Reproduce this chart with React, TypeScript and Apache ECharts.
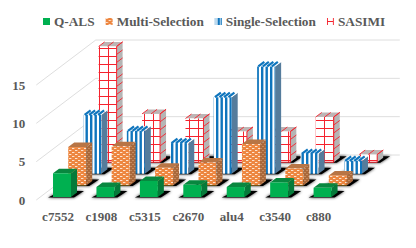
import React, { useEffect, useRef } from "react";
import * as echarts from "echarts";

const categories = ["c7552", "c1908", "c5315", "c2670", "alu4", "c3540", "c880"];
const qAls = [3.1, 1.3, 2.1, 1.6, 1.3, 1.9, 1.2];
const multiSelection = [5.0, 5.1, 2.3, 3.0, 5.4, 2.2, 1.3];
const singleSelection = [7.7, 5.6, 4.0, 10, 14, 2.6, 1.7];
const sasimi = [15.1, 6.3, 5.7, 4.0, 4.0, 5.9, 1.0];
const wallTicks = [0, 5, 10, 15];

const ROW_DX = 15.2, ROW_DY = 11.6, WALL_DX = 59.5, WALL_DY = 45;
const BAR_W = 18, TOP_DX = 6, TOP_DY = 4.5;
const TEXT = "#595959";
const FONT = "'Liberation Serif', serif";

function makeCanvas(w: number, h: number, draw: (c: CanvasRenderingContext2D) => void) {
  const cv = document.createElement("canvas");
  cv.width = w; cv.height = h;
  draw(cv.getContext("2d")!);
  return cv;
}
const orangeCanvas = () => makeCanvas(6, 4, (c) => {
  c.fillStyle = "#ed8640"; c.fillRect(0, 0, 6, 4);
  c.fillStyle = "#fde3cf"; c.fillRect(0, 0, 2, 1); c.fillRect(3, 2, 2, 1);
  c.fillStyle = "#f4a970"; c.fillRect(2, 0, 1, 1); c.fillRect(5, 2, 1, 1);
});
const orangeSideCanvas = () => makeCanvas(4, 4, (c) => {
  c.fillStyle = "#a9683a"; c.fillRect(0, 0, 4, 4);
  c.fillStyle = "#c58a5e"; c.fillRect(0, 0, 2, 1); c.fillRect(2, 2, 2, 1);
});
const blueCanvas = () => makeCanvas(9, 2, (c) => {
  c.fillStyle = "#ffffff"; c.fillRect(0, 0, 9, 2);
  c.fillStyle = "#0f75bd"; c.fillRect(0, 0, 2.4, 2); c.fillRect(4.5, 0, 2.4, 2);
});
const redCanvas = () => makeCanvas(9, 8, (c) => {
  c.fillStyle = "#ffffff"; c.fillRect(0, 0, 9, 8);
  c.fillStyle = "#f5222d"; c.fillRect(0, 0, 9, 1); c.fillRect(0, 0, 1, 8);
});
const sasimiIcon = () => makeCanvas(8, 8, (c) => {
  c.fillStyle = "#ffffff"; c.fillRect(0, 0, 8, 8);
  c.fillStyle = "#f5222d"; c.fillRect(0, 0, 1, 8); c.fillRect(6, 0, 1, 8); c.fillRect(0, 3, 7, 1);
});
const blueIcon = () => makeCanvas(8, 8, (c) => {
  c.fillStyle = "#bcd9ee"; c.fillRect(0, 0, 8, 8);
  c.fillStyle = "#0f75bd"; c.fillRect(3, 0, 2, 8); c.fillRect(6, 0, 2, 8);
});

function polygon(points: number[][], fill: any, z = 0) {
  return { type: "polygon", shape: { points }, style: { fill }, z2: z, silent: true };
}
function line(x1: number, y1: number, x2: number, y2: number, stroke: string, w = 0.8) {
  return { type: "line", shape: { x1, y1, x2, y2 }, style: { stroke, lineWidth: w }, silent: true };
}

type Kind = "green" | "orange" | "blue" | "red";

export default function App() {
  const ref = useRef<HTMLDivElement>(null);
  useEffect(() => {
    const chart = echarts.init(ref.current!, undefined, { renderer: "svg" });
    const orange = orangeCanvas(), orangeSide = orangeSideCanvas(), blue = blueCanvas(), red = redCanvas();

    const bar = (kind: Kind, row: number) => (params: any, api: any) => {
      const i = api.value(0), v = api.value(1);
      const p0 = api.coord([i, 0]), pv = api.coord([i, v]);
      const x = p0[0] - 5 + ROW_DX * row;
      const shift = 3 + ROW_DY * row;
      const yb = p0[1] - shift, yt = pv[1] - shift;
      const r = x + BAR_W;
      const kids: any[] = [];
      kids.push({
        type: "polygon", silent: true,
        shape: { points: [[x - 5, yb + 0.5], [r + 3, yb + 0.5], [r + TOP_DX + 7, yb - 6], [x + TOP_DX + 2, yb - 6]] },
        style: { fill: "#000", shadowBlur: 3, shadowColor: "rgba(0,0,0,0.9)" },
      });
      const side = { green: "#067a3a", orange: { image: orangeSide, repeat: "repeat", x: r, y: yt }, blue: "#557c9c", red: "#b5b5b5" }[kind];
      const top = { green: "#08873f", orange: "#b87545", blue: "#ffffff", red: "#bdb5b5" }[kind];
      const front = {
        green: "#00b050",
        orange: { image: orange, repeat: "repeat", x, y: yt },
        blue: { image: blue, repeat: "repeat", x, y: yt },
        red: { image: red, repeat: "repeat", x, y: yt },
      }[kind];
      kids.push(polygon([[r, yt], [r + TOP_DX, yt - TOP_DY], [r + TOP_DX, yb - TOP_DY], [r, yb]], side));
      kids.push(polygon([[x, yt], [x + TOP_DX, yt - TOP_DY], [r + TOP_DX, yt - TOP_DY], [r, yt]], top));
      kids.push({ type: "rect", silent: true, shape: { x, y: yt, width: BAR_W, height: yb - yt }, style: { fill: front } });
      if (kind === "orange") kids.push(line(x, yb, r, yb, "#6b5a12", 0.8));
      if (kind === "blue") {
        for (let s = 0; s <= BAR_W - 2; s += 4.5) {
          kids.push(line(x + s + 1.2, yt, x + s + 1.2 + TOP_DX, yt - TOP_DY, "#0f75bd", 2.2));
        }
      }
      if (kind === "red") {
        for (let s = 0; s <= BAR_W; s += 9) {
          kids.push(line(x + s, yt, x + s + TOP_DX, yt - TOP_DY, "#f5222d", 0.9));
        }
        for (let y = yt; y <= yb; y += 8) {
          kids.push(line(r, y, r + TOP_DX, y - TOP_DY, "#f5222d", 0.9));
        }
        kids.push(line(x + BAR_W, yt, x + BAR_W, yb, "#f5222d", 1));
        kids.push(line(x, yb, r, yb, "#f5222d", 1));
      }
      return { type: "group", children: kids };
    };

    const barSeries = (name: string, values: number[], kind: Kind, row: number, color: any) => ({
      name,
      type: "custom",
      coordinateSystem: "cartesian2d",
      data: values.map((v, i) => [i, v]),
      encode: { x: 0, y: 1 },
      clip: false,
      silent: true,
      itemStyle: { color },
      renderItem: bar(kind, row),
    });

    chart.setOption({
      animation: false,
      backgroundColor: "#ffffff",
      grid: { left: 36.3, top: 85, width: 304, height: 115 },
      legend: {
        left: 43, top: 15, padding: 0, itemWidth: 7, itemHeight: 7, itemGap: 11,
        icon: "rect",
        textStyle: { color: TEXT, fontFamily: FONT, fontWeight: "bold", fontSize: 13.3, padding: [0, 0, 0, -1] },
        data: [
          { name: "Q-ALS" },
          { name: "Multi-Selection" },
          { name: "Single-Selection", itemStyle: { color: { image: blueIcon(), repeat: "repeat" } } },
          { name: "SASIMI", itemStyle: { color: { image: sasimiIcon(), repeat: "repeat" } } },
        ],
      },
      xAxis: {
        type: "category", data: categories,
        axisLine: { show: false }, axisTick: { show: false }, splitLine: { show: false },
        axisLabel: { color: TEXT, fontFamily: FONT, fontWeight: "bold", fontSize: 13, margin: 10 },
      },
      yAxis: {
        type: "value", min: 0, max: 15, interval: 5,
        axisLine: { show: false }, axisTick: { show: false }, splitLine: { show: false },
        axisLabel: { color: TEXT, fontFamily: FONT, fontWeight: "bold", fontSize: 13, margin: 11 },
      },
      series: [
        {
          type: "custom", coordinateSystem: "cartesian2d", silent: true, clip: false,
          data: wallTicks.map((t) => [0, t]), encode: { x: 0, y: 1 },
          renderItem: (params: any, api: any) => {
            const y = api.coord([0, api.value(1)])[1];
            const cs = params.coordSys;
            return {
              type: "polyline", silent: true,
              shape: { points: [[cs.x, y], [cs.x + WALL_DX, y - WALL_DY], [cs.x + cs.width + WALL_DX, y - WALL_DY]] },
              style: { stroke: "#dedede", lineWidth: 1, fill: "none" },
            };
          },
        },
        barSeries("SASIMI", sasimi, "red", 3, "#f5222d"),
        barSeries("Single-Selection", singleSelection, "blue", 2, "#0f75bd"),
        barSeries("Multi-Selection", multiSelection, "orange", 1, { image: orange, repeat: "repeat" }),
        barSeries("Q-ALS", qAls, "green", 0, "#00b050"),
      ],
    });
    return () => chart.dispose();
  }, []);
  return <div ref={ref} style={{ position: "absolute", left: 0, top: 0, width: 416, height: 248 }} />;
}
